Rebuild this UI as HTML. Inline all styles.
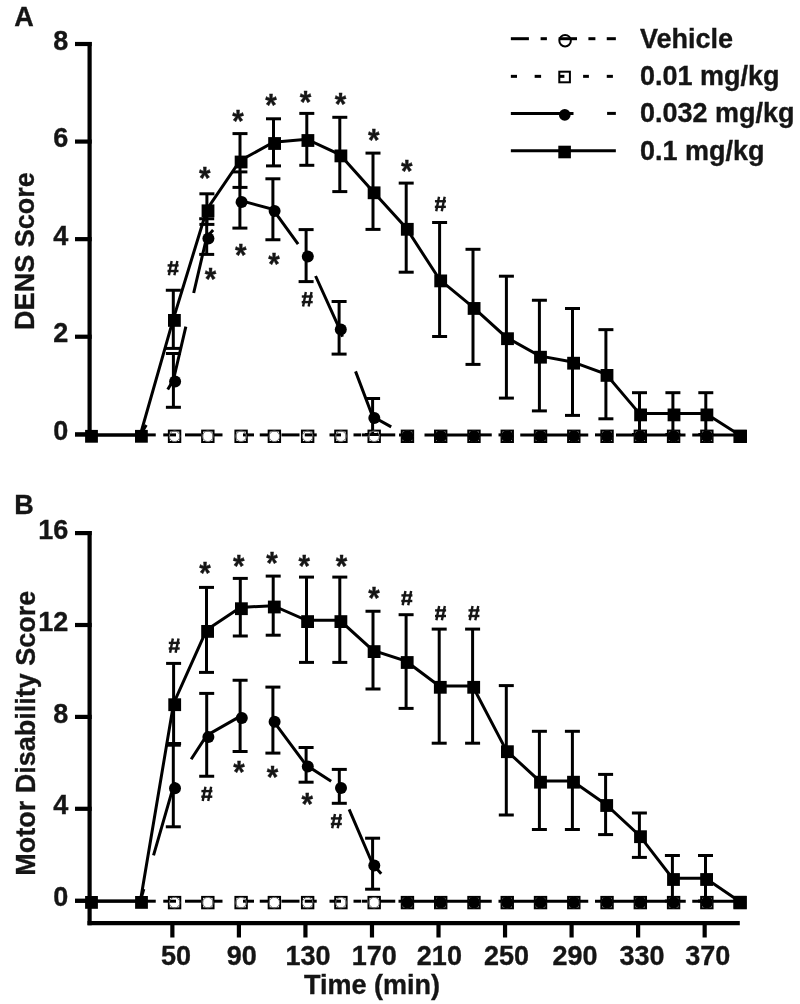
<!DOCTYPE html>
<html><head><meta charset="utf-8"><title>Figure</title>
<style>
html,body{margin:0;padding:0;background:#fff;}
svg{display:block;will-change:transform;}
text{font-family:"Liberation Sans", sans-serif;font-weight:bold;stroke:#151515;stroke-width:0.35px;}
</style></head>
<body>
<svg width="800" height="1004" viewBox="0 0 800 1004">
<rect x="0" y="0" width="800" height="1004" fill="#fff"/>
<line x1="89.60" y1="41.90" x2="89.60" y2="436.00" stroke="#000" stroke-width="4.2" stroke-linecap="butt"/>
<line x1="75.00" y1="434.30" x2="91.70" y2="434.30" stroke="#000" stroke-width="4.2" stroke-linecap="butt"/>
<text x="68.40" y="439.90" font-size="27" text-anchor="end" fill="#151515">0</text>
<line x1="75.00" y1="336.73" x2="91.70" y2="336.73" stroke="#000" stroke-width="4.2" stroke-linecap="butt"/>
<text x="68.40" y="342.33" font-size="27" text-anchor="end" fill="#151515">2</text>
<line x1="75.00" y1="239.15" x2="91.70" y2="239.15" stroke="#000" stroke-width="4.2" stroke-linecap="butt"/>
<text x="68.40" y="244.75" font-size="27" text-anchor="end" fill="#151515">4</text>
<line x1="75.00" y1="141.57" x2="91.70" y2="141.57" stroke="#000" stroke-width="4.2" stroke-linecap="butt"/>
<text x="68.40" y="147.17" font-size="27" text-anchor="end" fill="#151515">6</text>
<line x1="75.00" y1="44.00" x2="91.70" y2="44.00" stroke="#000" stroke-width="4.2" stroke-linecap="butt"/>
<text x="68.40" y="49.60" font-size="27" text-anchor="end" fill="#151515">8</text>
<text x="14.20" y="25.80" font-size="27" text-anchor="start" fill="#151515">A</text>
<text x="34.40" y="251.10" font-size="27" text-anchor="middle" fill="#151515" transform="rotate(-90 34.40 251.10)">DENS Score</text>
<line x1="89.60" y1="531.00" x2="89.60" y2="925.30" stroke="#000" stroke-width="4.2" stroke-linecap="butt"/>
<line x1="75.00" y1="900.70" x2="91.70" y2="900.70" stroke="#000" stroke-width="4.2" stroke-linecap="butt"/>
<text x="68.40" y="906.30" font-size="27" text-anchor="end" fill="#151515">0</text>
<line x1="75.00" y1="808.80" x2="91.70" y2="808.80" stroke="#000" stroke-width="4.2" stroke-linecap="butt"/>
<text x="68.40" y="814.40" font-size="27" text-anchor="end" fill="#151515">4</text>
<line x1="75.00" y1="716.90" x2="91.70" y2="716.90" stroke="#000" stroke-width="4.2" stroke-linecap="butt"/>
<text x="68.40" y="722.50" font-size="27" text-anchor="end" fill="#151515">8</text>
<line x1="75.00" y1="625.00" x2="91.70" y2="625.00" stroke="#000" stroke-width="4.2" stroke-linecap="butt"/>
<text x="68.40" y="630.60" font-size="27" text-anchor="end" fill="#151515">12</text>
<line x1="75.00" y1="533.10" x2="91.70" y2="533.10" stroke="#000" stroke-width="4.2" stroke-linecap="butt"/>
<text x="68.40" y="538.70" font-size="27" text-anchor="end" fill="#151515">16</text>
<text x="14.30" y="514.20" font-size="27" text-anchor="start" fill="#151515">B</text>
<text x="35.10" y="733.25" font-size="27" text-anchor="middle" fill="#151515" transform="rotate(-90 35.10 733.25)">Motor Disability Score</text>
<line x1="87.50" y1="923.20" x2="739.80" y2="923.20" stroke="#000" stroke-width="4.2" stroke-linecap="butt"/>
<line x1="172.37" y1="921.20" x2="172.37" y2="937.50" stroke="#000" stroke-width="4.2" stroke-linecap="butt"/>
<text x="176.12" y="964.80" font-size="27" text-anchor="middle" fill="#151515">50</text>
<line x1="238.91" y1="921.20" x2="238.91" y2="937.50" stroke="#000" stroke-width="4.2" stroke-linecap="butt"/>
<text x="241.66" y="964.80" font-size="27" text-anchor="middle" fill="#151515">90</text>
<line x1="305.44" y1="921.20" x2="305.44" y2="937.50" stroke="#000" stroke-width="4.2" stroke-linecap="butt"/>
<text x="307.94" y="964.80" font-size="27" text-anchor="middle" fill="#151515">130</text>
<line x1="371.98" y1="921.20" x2="371.98" y2="937.50" stroke="#000" stroke-width="4.2" stroke-linecap="butt"/>
<text x="374.36" y="964.80" font-size="27" text-anchor="middle" fill="#151515">170</text>
<line x1="438.51" y1="921.20" x2="438.51" y2="937.50" stroke="#000" stroke-width="4.2" stroke-linecap="butt"/>
<text x="439.39" y="964.80" font-size="27" text-anchor="middle" fill="#151515">210</text>
<line x1="505.05" y1="921.20" x2="505.05" y2="937.50" stroke="#000" stroke-width="4.2" stroke-linecap="butt"/>
<text x="506.55" y="964.80" font-size="27" text-anchor="middle" fill="#151515">250</text>
<line x1="571.59" y1="921.20" x2="571.59" y2="937.50" stroke="#000" stroke-width="4.2" stroke-linecap="butt"/>
<text x="575.09" y="964.80" font-size="27" text-anchor="middle" fill="#151515">290</text>
<line x1="638.12" y1="921.20" x2="638.12" y2="937.50" stroke="#000" stroke-width="4.2" stroke-linecap="butt"/>
<text x="642.12" y="964.80" font-size="27" text-anchor="middle" fill="#151515">330</text>
<line x1="704.66" y1="921.20" x2="704.66" y2="937.50" stroke="#000" stroke-width="4.2" stroke-linecap="butt"/>
<text x="707.66" y="964.80" font-size="27" text-anchor="middle" fill="#151515">370</text>
<text x="372.00" y="993.80" font-size="27" text-anchor="middle" fill="#151515">Time (min)</text>
<line x1="75.00" y1="434.90" x2="141.00" y2="434.90" stroke="#000" stroke-width="3.0" stroke-linecap="butt"/>
<line x1="146.00" y1="434.90" x2="155.75" y2="434.90" stroke="#000" stroke-width="3.0" stroke-linecap="butt"/>
<line x1="163.25" y1="434.90" x2="176.00" y2="434.90" stroke="#000" stroke-width="3.0" stroke-linecap="butt"/>
<line x1="185.00" y1="434.90" x2="201.00" y2="434.90" stroke="#000" stroke-width="3.0" stroke-linecap="butt"/>
<line x1="214.00" y1="434.90" x2="222.50" y2="434.90" stroke="#000" stroke-width="3.0" stroke-linecap="butt"/>
<line x1="243.00" y1="434.90" x2="254.00" y2="434.90" stroke="#000" stroke-width="3.0" stroke-linecap="butt"/>
<line x1="259.75" y1="434.90" x2="268.75" y2="434.90" stroke="#000" stroke-width="3.0" stroke-linecap="butt"/>
<line x1="281.50" y1="434.90" x2="299.50" y2="434.90" stroke="#000" stroke-width="3.0" stroke-linecap="butt"/>
<line x1="304.75" y1="434.90" x2="316.75" y2="434.90" stroke="#000" stroke-width="3.0" stroke-linecap="butt"/>
<line x1="329.50" y1="434.90" x2="341.00" y2="434.90" stroke="#000" stroke-width="3.0" stroke-linecap="butt"/>
<line x1="353.50" y1="434.90" x2="361.00" y2="434.90" stroke="#000" stroke-width="3.0" stroke-linecap="butt"/>
<line x1="361.75" y1="434.90" x2="367.50" y2="434.90" stroke="#000" stroke-width="3.0" stroke-linecap="butt"/>
<line x1="380.00" y1="434.90" x2="395.25" y2="434.90" stroke="#000" stroke-width="3.0" stroke-linecap="butt"/>
<line x1="399.00" y1="434.90" x2="401.00" y2="434.90" stroke="#000" stroke-width="3.0" stroke-linecap="butt"/>
<line x1="424.50" y1="434.90" x2="468.00" y2="434.90" stroke="#000" stroke-width="3.0" stroke-linecap="butt"/>
<line x1="470.00" y1="434.90" x2="491.75" y2="434.90" stroke="#000" stroke-width="3.0" stroke-linecap="butt"/>
<line x1="498.50" y1="434.90" x2="501.50" y2="434.90" stroke="#000" stroke-width="3.0" stroke-linecap="butt"/>
<line x1="520.25" y1="434.90" x2="588.25" y2="434.90" stroke="#000" stroke-width="3.0" stroke-linecap="butt"/>
<line x1="595.00" y1="434.90" x2="601.00" y2="434.90" stroke="#000" stroke-width="3.0" stroke-linecap="butt"/>
<line x1="616.00" y1="434.90" x2="685.50" y2="434.90" stroke="#000" stroke-width="3.0" stroke-linecap="butt"/>
<line x1="692.25" y1="434.90" x2="735.00" y2="434.90" stroke="#000" stroke-width="3.0" stroke-linecap="butt"/>
<line x1="173.30" y1="290.25" x2="173.30" y2="348.40" stroke="#000" stroke-width="3.0" stroke-linecap="butt"/>
<line x1="165.80" y1="290.25" x2="180.80" y2="290.25" stroke="#000" stroke-width="3.0" stroke-linecap="butt"/>
<line x1="165.80" y1="348.40" x2="180.80" y2="348.40" stroke="#000" stroke-width="3.0" stroke-linecap="butt"/>
<line x1="206.90" y1="193.80" x2="206.90" y2="224.40" stroke="#000" stroke-width="3.0" stroke-linecap="butt"/>
<line x1="199.40" y1="193.80" x2="214.40" y2="193.80" stroke="#000" stroke-width="3.0" stroke-linecap="butt"/>
<line x1="199.40" y1="224.40" x2="214.40" y2="224.40" stroke="#000" stroke-width="3.0" stroke-linecap="butt"/>
<line x1="240.00" y1="133.60" x2="240.00" y2="187.40" stroke="#000" stroke-width="3.0" stroke-linecap="butt"/>
<line x1="232.50" y1="133.60" x2="247.50" y2="133.60" stroke="#000" stroke-width="3.0" stroke-linecap="butt"/>
<line x1="232.50" y1="187.40" x2="247.50" y2="187.40" stroke="#000" stroke-width="3.0" stroke-linecap="butt"/>
<line x1="273.50" y1="118.80" x2="273.50" y2="165.90" stroke="#000" stroke-width="3.0" stroke-linecap="butt"/>
<line x1="266.00" y1="118.80" x2="281.00" y2="118.80" stroke="#000" stroke-width="3.0" stroke-linecap="butt"/>
<line x1="266.00" y1="165.90" x2="281.00" y2="165.90" stroke="#000" stroke-width="3.0" stroke-linecap="butt"/>
<line x1="306.80" y1="113.40" x2="306.80" y2="165.30" stroke="#000" stroke-width="3.0" stroke-linecap="butt"/>
<line x1="299.30" y1="113.40" x2="314.30" y2="113.40" stroke="#000" stroke-width="3.0" stroke-linecap="butt"/>
<line x1="299.30" y1="165.30" x2="314.30" y2="165.30" stroke="#000" stroke-width="3.0" stroke-linecap="butt"/>
<line x1="339.80" y1="117.30" x2="339.80" y2="191.60" stroke="#000" stroke-width="3.0" stroke-linecap="butt"/>
<line x1="332.30" y1="117.30" x2="347.30" y2="117.30" stroke="#000" stroke-width="3.0" stroke-linecap="butt"/>
<line x1="332.30" y1="191.60" x2="347.30" y2="191.60" stroke="#000" stroke-width="3.0" stroke-linecap="butt"/>
<line x1="373.00" y1="153.10" x2="373.00" y2="229.40" stroke="#000" stroke-width="3.0" stroke-linecap="butt"/>
<line x1="365.50" y1="153.10" x2="380.50" y2="153.10" stroke="#000" stroke-width="3.0" stroke-linecap="butt"/>
<line x1="365.50" y1="229.40" x2="380.50" y2="229.40" stroke="#000" stroke-width="3.0" stroke-linecap="butt"/>
<line x1="406.20" y1="183.10" x2="406.20" y2="272.20" stroke="#000" stroke-width="3.0" stroke-linecap="butt"/>
<line x1="398.70" y1="183.10" x2="413.70" y2="183.10" stroke="#000" stroke-width="3.0" stroke-linecap="butt"/>
<line x1="398.70" y1="272.20" x2="413.70" y2="272.20" stroke="#000" stroke-width="3.0" stroke-linecap="butt"/>
<line x1="439.60" y1="222.50" x2="439.60" y2="336.50" stroke="#000" stroke-width="3.0" stroke-linecap="butt"/>
<line x1="432.10" y1="222.50" x2="447.10" y2="222.50" stroke="#000" stroke-width="3.0" stroke-linecap="butt"/>
<line x1="432.10" y1="336.50" x2="447.10" y2="336.50" stroke="#000" stroke-width="3.0" stroke-linecap="butt"/>
<line x1="473.00" y1="249.30" x2="473.00" y2="364.40" stroke="#000" stroke-width="3.0" stroke-linecap="butt"/>
<line x1="465.50" y1="249.30" x2="480.50" y2="249.30" stroke="#000" stroke-width="3.0" stroke-linecap="butt"/>
<line x1="465.50" y1="364.40" x2="480.50" y2="364.40" stroke="#000" stroke-width="3.0" stroke-linecap="butt"/>
<line x1="506.40" y1="276.20" x2="506.40" y2="398.10" stroke="#000" stroke-width="3.0" stroke-linecap="butt"/>
<line x1="498.90" y1="276.20" x2="513.90" y2="276.20" stroke="#000" stroke-width="3.0" stroke-linecap="butt"/>
<line x1="498.90" y1="398.10" x2="513.90" y2="398.10" stroke="#000" stroke-width="3.0" stroke-linecap="butt"/>
<line x1="539.40" y1="300.25" x2="539.40" y2="410.90" stroke="#000" stroke-width="3.0" stroke-linecap="butt"/>
<line x1="531.90" y1="300.25" x2="546.90" y2="300.25" stroke="#000" stroke-width="3.0" stroke-linecap="butt"/>
<line x1="531.90" y1="410.90" x2="546.90" y2="410.90" stroke="#000" stroke-width="3.0" stroke-linecap="butt"/>
<line x1="572.50" y1="308.50" x2="572.50" y2="415.40" stroke="#000" stroke-width="3.0" stroke-linecap="butt"/>
<line x1="565.00" y1="308.50" x2="580.00" y2="308.50" stroke="#000" stroke-width="3.0" stroke-linecap="butt"/>
<line x1="565.00" y1="415.40" x2="580.00" y2="415.40" stroke="#000" stroke-width="3.0" stroke-linecap="butt"/>
<line x1="605.90" y1="329.65" x2="605.90" y2="418.80" stroke="#000" stroke-width="3.0" stroke-linecap="butt"/>
<line x1="598.40" y1="329.65" x2="613.40" y2="329.65" stroke="#000" stroke-width="3.0" stroke-linecap="butt"/>
<line x1="598.40" y1="418.80" x2="613.40" y2="418.80" stroke="#000" stroke-width="3.0" stroke-linecap="butt"/>
<line x1="639.50" y1="392.70" x2="639.50" y2="434.50" stroke="#000" stroke-width="3.0" stroke-linecap="butt"/>
<line x1="632.00" y1="392.70" x2="647.00" y2="392.70" stroke="#000" stroke-width="3.0" stroke-linecap="butt"/>
<line x1="632.00" y1="434.50" x2="647.00" y2="434.50" stroke="#000" stroke-width="3.0" stroke-linecap="butt"/>
<line x1="672.90" y1="392.70" x2="672.90" y2="434.50" stroke="#000" stroke-width="3.0" stroke-linecap="butt"/>
<line x1="665.40" y1="392.70" x2="680.40" y2="392.70" stroke="#000" stroke-width="3.0" stroke-linecap="butt"/>
<line x1="665.40" y1="434.50" x2="680.40" y2="434.50" stroke="#000" stroke-width="3.0" stroke-linecap="butt"/>
<line x1="705.80" y1="392.70" x2="705.80" y2="434.50" stroke="#000" stroke-width="3.0" stroke-linecap="butt"/>
<line x1="698.30" y1="392.70" x2="713.30" y2="392.70" stroke="#000" stroke-width="3.0" stroke-linecap="butt"/>
<line x1="698.30" y1="434.50" x2="713.30" y2="434.50" stroke="#000" stroke-width="3.0" stroke-linecap="butt"/>
<line x1="173.40" y1="353.50" x2="173.40" y2="407.30" stroke="#000" stroke-width="3.0" stroke-linecap="butt"/>
<line x1="165.90" y1="353.50" x2="180.90" y2="353.50" stroke="#000" stroke-width="3.0" stroke-linecap="butt"/>
<line x1="165.90" y1="407.30" x2="180.90" y2="407.30" stroke="#000" stroke-width="3.0" stroke-linecap="butt"/>
<line x1="206.70" y1="218.75" x2="206.70" y2="254.40" stroke="#000" stroke-width="3.0" stroke-linecap="butt"/>
<line x1="199.20" y1="218.75" x2="214.20" y2="218.75" stroke="#000" stroke-width="3.0" stroke-linecap="butt"/>
<line x1="199.20" y1="254.40" x2="214.20" y2="254.40" stroke="#000" stroke-width="3.0" stroke-linecap="butt"/>
<line x1="239.90" y1="171.90" x2="239.90" y2="228.10" stroke="#000" stroke-width="3.0" stroke-linecap="butt"/>
<line x1="232.40" y1="171.90" x2="247.40" y2="171.90" stroke="#000" stroke-width="3.0" stroke-linecap="butt"/>
<line x1="232.40" y1="228.10" x2="247.40" y2="228.10" stroke="#000" stroke-width="3.0" stroke-linecap="butt"/>
<line x1="272.90" y1="178.80" x2="272.90" y2="239.75" stroke="#000" stroke-width="3.0" stroke-linecap="butt"/>
<line x1="265.40" y1="178.80" x2="280.40" y2="178.80" stroke="#000" stroke-width="3.0" stroke-linecap="butt"/>
<line x1="265.40" y1="239.75" x2="280.40" y2="239.75" stroke="#000" stroke-width="3.0" stroke-linecap="butt"/>
<line x1="306.10" y1="229.60" x2="306.10" y2="281.60" stroke="#000" stroke-width="3.0" stroke-linecap="butt"/>
<line x1="298.60" y1="229.60" x2="313.60" y2="229.60" stroke="#000" stroke-width="3.0" stroke-linecap="butt"/>
<line x1="298.60" y1="281.60" x2="313.60" y2="281.60" stroke="#000" stroke-width="3.0" stroke-linecap="butt"/>
<line x1="339.10" y1="301.50" x2="339.10" y2="354.10" stroke="#000" stroke-width="3.0" stroke-linecap="butt"/>
<line x1="331.60" y1="301.50" x2="346.60" y2="301.50" stroke="#000" stroke-width="3.0" stroke-linecap="butt"/>
<line x1="331.60" y1="354.10" x2="346.60" y2="354.10" stroke="#000" stroke-width="3.0" stroke-linecap="butt"/>
<line x1="372.60" y1="398.50" x2="372.60" y2="434.50" stroke="#000" stroke-width="3.0" stroke-linecap="butt"/>
<line x1="365.10" y1="398.50" x2="380.10" y2="398.50" stroke="#000" stroke-width="3.0" stroke-linecap="butt"/>
<line x1="365.10" y1="434.50" x2="380.10" y2="434.50" stroke="#000" stroke-width="3.0" stroke-linecap="butt"/>
<polyline points="140.30,434.90 146.27,425.00" fill="none" stroke="#000" stroke-width="3.0" stroke-linejoin="miter" stroke-miterlimit="10"/>
<polyline points="167.73,389.40 173.40,380.00 185.84,326.60" fill="none" stroke="#000" stroke-width="3.0" stroke-linejoin="miter" stroke-miterlimit="10"/>
<polyline points="193.67,293.00 206.70,237.10 213.12,230.00" fill="none" stroke="#000" stroke-width="3.0" stroke-linejoin="miter" stroke-miterlimit="10"/>
<polyline points="236.58,204.07 239.90,200.40 272.90,209.40 298.11,244.10" fill="none" stroke="#000" stroke-width="3.0" stroke-linejoin="miter" stroke-miterlimit="10"/>
<polyline points="315.57,276.00 339.10,327.90 342.45,336.76" fill="none" stroke="#000" stroke-width="3.0" stroke-linejoin="miter" stroke-miterlimit="10"/>
<polyline points="355.55,371.40 372.60,416.50 391.20,426.90" fill="none" stroke="#000" stroke-width="3.0" stroke-linejoin="miter" stroke-miterlimit="10"/>
<polyline points="90.40,435.00 140.30,435.00 173.30,319.10 206.90,209.50 240.00,160.70 273.50,142.20 306.80,139.20 339.80,154.60 373.00,191.50 406.20,228.00 439.60,279.60 473.00,307.15 506.40,337.40 539.40,355.90 572.50,361.90 605.90,374.10 639.50,413.60 672.90,413.60 705.80,413.60 739.50,435.10" fill="none" stroke="#000" stroke-width="3.0" stroke-linejoin="miter" stroke-miterlimit="10"/>
<rect x="168.87" y="430.60" width="11.4" height="11.4" fill="none" stroke="#000" stroke-width="2.0"/>
<circle cx="174.57" cy="436.30" r="5.25" fill="none" stroke="#777" stroke-width="1.0"/>
<rect x="202.14" y="430.60" width="11.4" height="11.4" fill="none" stroke="#000" stroke-width="2.0"/>
<circle cx="207.84" cy="436.30" r="5.25" fill="none" stroke="#777" stroke-width="1.0"/>
<rect x="235.41" y="430.60" width="11.4" height="11.4" fill="none" stroke="#000" stroke-width="2.0"/>
<circle cx="241.11" cy="436.30" r="5.25" fill="none" stroke="#777" stroke-width="1.0"/>
<rect x="268.67" y="430.60" width="11.4" height="11.4" fill="none" stroke="#000" stroke-width="2.0"/>
<circle cx="274.37" cy="436.30" r="5.25" fill="none" stroke="#777" stroke-width="1.0"/>
<rect x="301.94" y="430.60" width="11.4" height="11.4" fill="none" stroke="#000" stroke-width="2.0"/>
<circle cx="307.64" cy="436.30" r="5.25" fill="none" stroke="#777" stroke-width="1.0"/>
<rect x="335.21" y="430.60" width="11.4" height="11.4" fill="none" stroke="#000" stroke-width="2.0"/>
<circle cx="340.91" cy="436.30" r="5.25" fill="none" stroke="#777" stroke-width="1.0"/>
<rect x="368.48" y="430.60" width="11.4" height="11.4" fill="none" stroke="#000" stroke-width="2.0"/>
<circle cx="374.18" cy="436.30" r="5.25" fill="none" stroke="#777" stroke-width="1.0"/>
<rect x="401.75" y="430.60" width="11.4" height="11.4" fill="none" stroke="#000" stroke-width="2.0"/>
<circle cx="407.45" cy="436.30" r="5.25" fill="none" stroke="#777" stroke-width="1.0"/>
<circle cx="407.45" cy="436.20" r="6.0" fill="#000"/>
<rect x="435.01" y="430.60" width="11.4" height="11.4" fill="none" stroke="#000" stroke-width="2.0"/>
<circle cx="440.71" cy="436.30" r="5.25" fill="none" stroke="#777" stroke-width="1.0"/>
<circle cx="440.71" cy="436.20" r="6.0" fill="#000"/>
<rect x="468.28" y="430.60" width="11.4" height="11.4" fill="none" stroke="#000" stroke-width="2.0"/>
<circle cx="473.98" cy="436.30" r="5.25" fill="none" stroke="#777" stroke-width="1.0"/>
<circle cx="473.98" cy="436.20" r="6.0" fill="#000"/>
<rect x="501.55" y="430.60" width="11.4" height="11.4" fill="none" stroke="#000" stroke-width="2.0"/>
<circle cx="507.25" cy="436.30" r="5.25" fill="none" stroke="#777" stroke-width="1.0"/>
<circle cx="507.25" cy="436.20" r="6.0" fill="#000"/>
<rect x="534.82" y="430.60" width="11.4" height="11.4" fill="none" stroke="#000" stroke-width="2.0"/>
<circle cx="540.52" cy="436.30" r="5.25" fill="none" stroke="#777" stroke-width="1.0"/>
<circle cx="540.52" cy="436.20" r="6.0" fill="#000"/>
<rect x="568.09" y="430.60" width="11.4" height="11.4" fill="none" stroke="#000" stroke-width="2.0"/>
<circle cx="573.79" cy="436.30" r="5.25" fill="none" stroke="#777" stroke-width="1.0"/>
<circle cx="573.79" cy="436.20" r="6.0" fill="#000"/>
<rect x="601.35" y="430.60" width="11.4" height="11.4" fill="none" stroke="#000" stroke-width="2.0"/>
<circle cx="607.05" cy="436.30" r="5.25" fill="none" stroke="#777" stroke-width="1.0"/>
<circle cx="607.05" cy="436.20" r="6.0" fill="#000"/>
<rect x="634.62" y="430.60" width="11.4" height="11.4" fill="none" stroke="#000" stroke-width="2.0"/>
<circle cx="640.32" cy="436.30" r="5.25" fill="none" stroke="#777" stroke-width="1.0"/>
<circle cx="640.32" cy="436.20" r="6.0" fill="#000"/>
<rect x="667.89" y="430.60" width="11.4" height="11.4" fill="none" stroke="#000" stroke-width="2.0"/>
<circle cx="673.59" cy="436.30" r="5.25" fill="none" stroke="#777" stroke-width="1.0"/>
<circle cx="673.59" cy="436.20" r="6.0" fill="#000"/>
<rect x="701.16" y="430.60" width="11.4" height="11.4" fill="none" stroke="#000" stroke-width="2.0"/>
<circle cx="706.86" cy="436.30" r="5.25" fill="none" stroke="#777" stroke-width="1.0"/>
<circle cx="706.86" cy="436.20" r="6.0" fill="#000"/>
<rect x="734.43" y="430.60" width="11.4" height="11.4" fill="none" stroke="#000" stroke-width="2.0"/>
<circle cx="740.13" cy="436.30" r="5.25" fill="none" stroke="#777" stroke-width="1.0"/>
<circle cx="740.13" cy="436.20" r="6.0" fill="#000"/>
<circle cx="175.10" cy="381.50" r="6.0" fill="#000"/>
<circle cx="208.40" cy="238.60" r="6.0" fill="#000"/>
<circle cx="241.60" cy="201.90" r="6.0" fill="#000"/>
<circle cx="274.60" cy="210.90" r="6.0" fill="#000"/>
<circle cx="307.80" cy="256.60" r="6.0" fill="#000"/>
<circle cx="340.80" cy="329.40" r="6.0" fill="#000"/>
<circle cx="374.30" cy="418.00" r="6.0" fill="#000"/>
<rect x="85.10" y="429.90" width="12.8" height="12.8" fill="#000"/>
<rect x="135.00" y="429.90" width="12.8" height="12.8" fill="#000"/>
<rect x="168.00" y="314.00" width="12.8" height="12.8" fill="#000"/>
<rect x="201.60" y="204.40" width="12.8" height="12.8" fill="#000"/>
<rect x="234.70" y="155.60" width="12.8" height="12.8" fill="#000"/>
<rect x="268.20" y="137.10" width="12.8" height="12.8" fill="#000"/>
<rect x="301.50" y="134.10" width="12.8" height="12.8" fill="#000"/>
<rect x="334.50" y="149.50" width="12.8" height="12.8" fill="#000"/>
<rect x="367.70" y="186.40" width="12.8" height="12.8" fill="#000"/>
<rect x="400.90" y="222.90" width="12.8" height="12.8" fill="#000"/>
<rect x="434.30" y="274.50" width="12.8" height="12.8" fill="#000"/>
<rect x="467.70" y="302.05" width="12.8" height="12.8" fill="#000"/>
<rect x="501.10" y="332.30" width="12.8" height="12.8" fill="#000"/>
<rect x="534.10" y="350.80" width="12.8" height="12.8" fill="#000"/>
<rect x="567.20" y="356.80" width="12.8" height="12.8" fill="#000"/>
<rect x="600.60" y="369.00" width="12.8" height="12.8" fill="#000"/>
<rect x="634.20" y="408.50" width="12.8" height="12.8" fill="#000"/>
<rect x="667.60" y="408.50" width="12.8" height="12.8" fill="#000"/>
<rect x="700.50" y="408.50" width="12.8" height="12.8" fill="#000"/>
<rect x="734.20" y="430.00" width="12.8" height="12.8" fill="#000"/>
<text x="204.75" y="187.70" font-size="29.5" text-anchor="middle" fill="#151515" transform="translate(0 167.40) scale(1 1.08) translate(0 -167.40)">*</text>
<text x="237.90" y="130.80" font-size="29.5" text-anchor="middle" fill="#151515" transform="translate(0 110.50) scale(1 1.08) translate(0 -110.50)">*</text>
<text x="271.10" y="113.90" font-size="29.5" text-anchor="middle" fill="#151515" transform="translate(0 93.60) scale(1 1.08) translate(0 -93.60)">*</text>
<text x="305.40" y="110.90" font-size="29.5" text-anchor="middle" fill="#151515" transform="translate(0 90.60) scale(1 1.08) translate(0 -90.60)">*</text>
<text x="340.40" y="113.60" font-size="29.5" text-anchor="middle" fill="#151515" transform="translate(0 93.30) scale(1 1.08) translate(0 -93.30)">*</text>
<text x="373.70" y="149.55" font-size="29.5" text-anchor="middle" fill="#151515" transform="translate(0 129.25) scale(1 1.08) translate(0 -129.25)">*</text>
<text x="406.75" y="180.40" font-size="29.5" text-anchor="middle" fill="#151515" transform="translate(0 160.10) scale(1 1.08) translate(0 -160.10)">*</text>
<text x="210.40" y="288.55" font-size="29.5" text-anchor="middle" fill="#151515" transform="translate(0 268.25) scale(1 1.08) translate(0 -268.25)">*</text>
<text x="240.80" y="263.90" font-size="29.5" text-anchor="middle" fill="#151515" transform="translate(0 243.60) scale(1 1.08) translate(0 -243.60)">*</text>
<text x="274.00" y="273.30" font-size="29.5" text-anchor="middle" fill="#151515" transform="translate(0 253.00) scale(1 1.08) translate(0 -253.00)">*</text>
<line x1="171.65" y1="261.00" x2="168.90" y2="275.30" stroke="#151515" stroke-width="2.4" stroke-linecap="butt"/>
<line x1="177.35" y1="261.00" x2="174.40" y2="275.30" stroke="#151515" stroke-width="2.4" stroke-linecap="butt"/>
<line x1="167.60" y1="265.40" x2="178.60" y2="265.40" stroke="#151515" stroke-width="2.4" stroke-linecap="butt"/>
<line x1="167.50" y1="271.00" x2="178.50" y2="271.00" stroke="#151515" stroke-width="2.4" stroke-linecap="butt"/>
<line x1="439.00" y1="196.85" x2="436.25" y2="211.15" stroke="#151515" stroke-width="2.4" stroke-linecap="butt"/>
<line x1="444.70" y1="196.85" x2="441.75" y2="211.15" stroke="#151515" stroke-width="2.4" stroke-linecap="butt"/>
<line x1="434.95" y1="201.25" x2="445.95" y2="201.25" stroke="#151515" stroke-width="2.4" stroke-linecap="butt"/>
<line x1="434.85" y1="206.85" x2="445.85" y2="206.85" stroke="#151515" stroke-width="2.4" stroke-linecap="butt"/>
<line x1="305.85" y1="292.10" x2="303.10" y2="306.40" stroke="#151515" stroke-width="2.4" stroke-linecap="butt"/>
<line x1="311.55" y1="292.10" x2="308.60" y2="306.40" stroke="#151515" stroke-width="2.4" stroke-linecap="butt"/>
<line x1="301.80" y1="296.50" x2="312.80" y2="296.50" stroke="#151515" stroke-width="2.4" stroke-linecap="butt"/>
<line x1="301.70" y1="302.10" x2="312.70" y2="302.10" stroke="#151515" stroke-width="2.4" stroke-linecap="butt"/>
<line x1="75.00" y1="901.20" x2="141.00" y2="901.20" stroke="#000" stroke-width="3.0" stroke-linecap="butt"/>
<line x1="146.00" y1="901.20" x2="155.75" y2="901.20" stroke="#000" stroke-width="3.0" stroke-linecap="butt"/>
<line x1="163.25" y1="901.20" x2="176.00" y2="901.20" stroke="#000" stroke-width="3.0" stroke-linecap="butt"/>
<line x1="185.00" y1="901.20" x2="201.00" y2="901.20" stroke="#000" stroke-width="3.0" stroke-linecap="butt"/>
<line x1="214.00" y1="901.20" x2="222.50" y2="901.20" stroke="#000" stroke-width="3.0" stroke-linecap="butt"/>
<line x1="243.00" y1="901.20" x2="254.00" y2="901.20" stroke="#000" stroke-width="3.0" stroke-linecap="butt"/>
<line x1="259.75" y1="901.20" x2="268.75" y2="901.20" stroke="#000" stroke-width="3.0" stroke-linecap="butt"/>
<line x1="281.50" y1="901.20" x2="299.50" y2="901.20" stroke="#000" stroke-width="3.0" stroke-linecap="butt"/>
<line x1="304.75" y1="901.20" x2="316.75" y2="901.20" stroke="#000" stroke-width="3.0" stroke-linecap="butt"/>
<line x1="329.50" y1="901.20" x2="341.00" y2="901.20" stroke="#000" stroke-width="3.0" stroke-linecap="butt"/>
<line x1="353.50" y1="901.20" x2="361.00" y2="901.20" stroke="#000" stroke-width="3.0" stroke-linecap="butt"/>
<line x1="361.75" y1="901.20" x2="367.50" y2="901.20" stroke="#000" stroke-width="3.0" stroke-linecap="butt"/>
<line x1="379.50" y1="901.20" x2="395.25" y2="901.20" stroke="#000" stroke-width="3.0" stroke-linecap="butt"/>
<line x1="398.50" y1="901.20" x2="491.75" y2="901.20" stroke="#000" stroke-width="3.0" stroke-linecap="butt"/>
<line x1="498.50" y1="901.20" x2="588.25" y2="901.20" stroke="#000" stroke-width="3.0" stroke-linecap="butt"/>
<line x1="595.00" y1="901.20" x2="685.75" y2="901.20" stroke="#000" stroke-width="3.0" stroke-linecap="butt"/>
<line x1="692.25" y1="901.20" x2="735.00" y2="901.20" stroke="#000" stroke-width="3.0" stroke-linecap="butt"/>
<line x1="173.60" y1="663.40" x2="173.60" y2="743.50" stroke="#000" stroke-width="3.0" stroke-linecap="butt"/>
<line x1="166.10" y1="663.40" x2="181.10" y2="663.40" stroke="#000" stroke-width="3.0" stroke-linecap="butt"/>
<line x1="166.10" y1="743.50" x2="181.10" y2="743.50" stroke="#000" stroke-width="3.0" stroke-linecap="butt"/>
<line x1="206.50" y1="587.40" x2="206.50" y2="672.40" stroke="#000" stroke-width="3.0" stroke-linecap="butt"/>
<line x1="199.00" y1="587.40" x2="214.00" y2="587.40" stroke="#000" stroke-width="3.0" stroke-linecap="butt"/>
<line x1="199.00" y1="672.40" x2="214.00" y2="672.40" stroke="#000" stroke-width="3.0" stroke-linecap="butt"/>
<line x1="240.30" y1="578.40" x2="240.30" y2="636.00" stroke="#000" stroke-width="3.0" stroke-linecap="butt"/>
<line x1="232.80" y1="578.40" x2="247.80" y2="578.40" stroke="#000" stroke-width="3.0" stroke-linecap="butt"/>
<line x1="232.80" y1="636.00" x2="247.80" y2="636.00" stroke="#000" stroke-width="3.0" stroke-linecap="butt"/>
<line x1="273.20" y1="576.10" x2="273.20" y2="635.20" stroke="#000" stroke-width="3.0" stroke-linecap="butt"/>
<line x1="265.70" y1="576.10" x2="280.70" y2="576.10" stroke="#000" stroke-width="3.0" stroke-linecap="butt"/>
<line x1="265.70" y1="635.20" x2="280.70" y2="635.20" stroke="#000" stroke-width="3.0" stroke-linecap="butt"/>
<line x1="306.50" y1="577.10" x2="306.50" y2="662.40" stroke="#000" stroke-width="3.0" stroke-linecap="butt"/>
<line x1="299.00" y1="577.10" x2="314.00" y2="577.10" stroke="#000" stroke-width="3.0" stroke-linecap="butt"/>
<line x1="299.00" y1="662.40" x2="314.00" y2="662.40" stroke="#000" stroke-width="3.0" stroke-linecap="butt"/>
<line x1="339.80" y1="577.10" x2="339.80" y2="662.40" stroke="#000" stroke-width="3.0" stroke-linecap="butt"/>
<line x1="332.30" y1="577.10" x2="347.30" y2="577.10" stroke="#000" stroke-width="3.0" stroke-linecap="butt"/>
<line x1="332.30" y1="662.40" x2="347.30" y2="662.40" stroke="#000" stroke-width="3.0" stroke-linecap="butt"/>
<line x1="373.00" y1="611.25" x2="373.00" y2="689.00" stroke="#000" stroke-width="3.0" stroke-linecap="butt"/>
<line x1="365.50" y1="611.25" x2="380.50" y2="611.25" stroke="#000" stroke-width="3.0" stroke-linecap="butt"/>
<line x1="365.50" y1="689.00" x2="380.50" y2="689.00" stroke="#000" stroke-width="3.0" stroke-linecap="butt"/>
<line x1="406.10" y1="614.70" x2="406.10" y2="708.40" stroke="#000" stroke-width="3.0" stroke-linecap="butt"/>
<line x1="398.60" y1="614.70" x2="413.60" y2="614.70" stroke="#000" stroke-width="3.0" stroke-linecap="butt"/>
<line x1="398.60" y1="708.40" x2="413.60" y2="708.40" stroke="#000" stroke-width="3.0" stroke-linecap="butt"/>
<line x1="439.20" y1="629.10" x2="439.20" y2="743.20" stroke="#000" stroke-width="3.0" stroke-linecap="butt"/>
<line x1="431.70" y1="629.10" x2="446.70" y2="629.10" stroke="#000" stroke-width="3.0" stroke-linecap="butt"/>
<line x1="431.70" y1="743.20" x2="446.70" y2="743.20" stroke="#000" stroke-width="3.0" stroke-linecap="butt"/>
<line x1="472.60" y1="629.10" x2="472.60" y2="743.20" stroke="#000" stroke-width="3.0" stroke-linecap="butt"/>
<line x1="465.10" y1="629.10" x2="480.10" y2="629.10" stroke="#000" stroke-width="3.0" stroke-linecap="butt"/>
<line x1="465.10" y1="743.20" x2="480.10" y2="743.20" stroke="#000" stroke-width="3.0" stroke-linecap="butt"/>
<line x1="506.30" y1="685.60" x2="506.30" y2="815.00" stroke="#000" stroke-width="3.0" stroke-linecap="butt"/>
<line x1="498.80" y1="685.60" x2="513.80" y2="685.60" stroke="#000" stroke-width="3.0" stroke-linecap="butt"/>
<line x1="498.80" y1="815.00" x2="513.80" y2="815.00" stroke="#000" stroke-width="3.0" stroke-linecap="butt"/>
<line x1="539.40" y1="731.30" x2="539.40" y2="829.50" stroke="#000" stroke-width="3.0" stroke-linecap="butt"/>
<line x1="531.90" y1="731.30" x2="546.90" y2="731.30" stroke="#000" stroke-width="3.0" stroke-linecap="butt"/>
<line x1="531.90" y1="829.50" x2="546.90" y2="829.50" stroke="#000" stroke-width="3.0" stroke-linecap="butt"/>
<line x1="572.40" y1="731.30" x2="572.40" y2="829.50" stroke="#000" stroke-width="3.0" stroke-linecap="butt"/>
<line x1="564.90" y1="731.30" x2="579.90" y2="731.30" stroke="#000" stroke-width="3.0" stroke-linecap="butt"/>
<line x1="564.90" y1="829.50" x2="579.90" y2="829.50" stroke="#000" stroke-width="3.0" stroke-linecap="butt"/>
<line x1="605.60" y1="774.40" x2="605.60" y2="834.60" stroke="#000" stroke-width="3.0" stroke-linecap="butt"/>
<line x1="598.10" y1="774.40" x2="613.10" y2="774.40" stroke="#000" stroke-width="3.0" stroke-linecap="butt"/>
<line x1="598.10" y1="834.60" x2="613.10" y2="834.60" stroke="#000" stroke-width="3.0" stroke-linecap="butt"/>
<line x1="639.40" y1="813.00" x2="639.40" y2="857.40" stroke="#000" stroke-width="3.0" stroke-linecap="butt"/>
<line x1="631.90" y1="813.00" x2="646.90" y2="813.00" stroke="#000" stroke-width="3.0" stroke-linecap="butt"/>
<line x1="631.90" y1="857.40" x2="646.90" y2="857.40" stroke="#000" stroke-width="3.0" stroke-linecap="butt"/>
<line x1="672.40" y1="855.50" x2="672.40" y2="901.00" stroke="#000" stroke-width="3.0" stroke-linecap="butt"/>
<line x1="664.90" y1="855.50" x2="679.90" y2="855.50" stroke="#000" stroke-width="3.0" stroke-linecap="butt"/>
<line x1="664.90" y1="901.00" x2="679.90" y2="901.00" stroke="#000" stroke-width="3.0" stroke-linecap="butt"/>
<line x1="705.50" y1="855.50" x2="705.50" y2="901.00" stroke="#000" stroke-width="3.0" stroke-linecap="butt"/>
<line x1="698.00" y1="855.50" x2="713.00" y2="855.50" stroke="#000" stroke-width="3.0" stroke-linecap="butt"/>
<line x1="698.00" y1="901.00" x2="713.00" y2="901.00" stroke="#000" stroke-width="3.0" stroke-linecap="butt"/>
<line x1="173.30" y1="745.20" x2="173.30" y2="826.80" stroke="#000" stroke-width="3.0" stroke-linecap="butt"/>
<line x1="165.80" y1="745.20" x2="180.80" y2="745.20" stroke="#000" stroke-width="3.0" stroke-linecap="butt"/>
<line x1="165.80" y1="826.80" x2="180.80" y2="826.80" stroke="#000" stroke-width="3.0" stroke-linecap="butt"/>
<line x1="206.70" y1="693.40" x2="206.70" y2="776.25" stroke="#000" stroke-width="3.0" stroke-linecap="butt"/>
<line x1="199.20" y1="693.40" x2="214.20" y2="693.40" stroke="#000" stroke-width="3.0" stroke-linecap="butt"/>
<line x1="199.20" y1="776.25" x2="214.20" y2="776.25" stroke="#000" stroke-width="3.0" stroke-linecap="butt"/>
<line x1="240.10" y1="680.25" x2="240.10" y2="751.50" stroke="#000" stroke-width="3.0" stroke-linecap="butt"/>
<line x1="232.60" y1="680.25" x2="247.60" y2="680.25" stroke="#000" stroke-width="3.0" stroke-linecap="butt"/>
<line x1="232.60" y1="751.50" x2="247.60" y2="751.50" stroke="#000" stroke-width="3.0" stroke-linecap="butt"/>
<line x1="272.90" y1="687.10" x2="272.90" y2="753.10" stroke="#000" stroke-width="3.0" stroke-linecap="butt"/>
<line x1="265.40" y1="687.10" x2="280.40" y2="687.10" stroke="#000" stroke-width="3.0" stroke-linecap="butt"/>
<line x1="265.40" y1="753.10" x2="280.40" y2="753.10" stroke="#000" stroke-width="3.0" stroke-linecap="butt"/>
<line x1="306.10" y1="747.50" x2="306.10" y2="782.20" stroke="#000" stroke-width="3.0" stroke-linecap="butt"/>
<line x1="298.60" y1="747.50" x2="313.60" y2="747.50" stroke="#000" stroke-width="3.0" stroke-linecap="butt"/>
<line x1="298.60" y1="782.20" x2="313.60" y2="782.20" stroke="#000" stroke-width="3.0" stroke-linecap="butt"/>
<line x1="339.30" y1="769.40" x2="339.30" y2="803.30" stroke="#000" stroke-width="3.0" stroke-linecap="butt"/>
<line x1="331.80" y1="769.40" x2="346.80" y2="769.40" stroke="#000" stroke-width="3.0" stroke-linecap="butt"/>
<line x1="331.80" y1="803.30" x2="346.80" y2="803.30" stroke="#000" stroke-width="3.0" stroke-linecap="butt"/>
<line x1="372.60" y1="838.20" x2="372.60" y2="889.20" stroke="#000" stroke-width="3.0" stroke-linecap="butt"/>
<line x1="365.10" y1="838.20" x2="380.10" y2="838.20" stroke="#000" stroke-width="3.0" stroke-linecap="butt"/>
<line x1="365.10" y1="889.20" x2="380.10" y2="889.20" stroke="#000" stroke-width="3.0" stroke-linecap="butt"/>
<polyline points="140.30,901.20 143.82,889.00" fill="none" stroke="#000" stroke-width="3.0" stroke-linejoin="miter" stroke-miterlimit="10"/>
<polyline points="153.54,855.30 173.30,786.80 175.97,782.69" fill="none" stroke="#000" stroke-width="3.0" stroke-linejoin="miter" stroke-miterlimit="10"/>
<polyline points="191.17,759.30 206.70,735.40 240.10,716.40 243.38,716.79" fill="none" stroke="#000" stroke-width="3.0" stroke-linejoin="miter" stroke-miterlimit="10"/>
<polyline points="272.90,720.30 306.10,765.10 331.16,781.25" fill="none" stroke="#000" stroke-width="3.0" stroke-linejoin="miter" stroke-miterlimit="10"/>
<polyline points="349.14,809.40 372.60,864.00 381.22,873.75" fill="none" stroke="#000" stroke-width="3.0" stroke-linejoin="miter" stroke-miterlimit="10"/>
<polyline points="90.40,901.10 140.40,901.10 173.60,703.40 206.50,630.10 240.30,607.40 273.20,605.70 306.50,620.30 339.80,620.30 373.00,650.30 406.10,661.20 439.20,686.00 472.60,686.00 506.30,750.40 539.40,780.90 572.40,780.90 605.60,804.20 639.40,835.40 672.40,878.20 705.50,878.20 738.90,901.00" fill="none" stroke="#000" stroke-width="3.0" stroke-linejoin="miter" stroke-miterlimit="10"/>
<rect x="168.87" y="896.90" width="11.4" height="11.4" fill="none" stroke="#000" stroke-width="2.0"/>
<circle cx="174.57" cy="902.60" r="5.25" fill="none" stroke="#777" stroke-width="1.0"/>
<rect x="202.14" y="896.90" width="11.4" height="11.4" fill="none" stroke="#000" stroke-width="2.0"/>
<circle cx="207.84" cy="902.60" r="5.25" fill="none" stroke="#777" stroke-width="1.0"/>
<rect x="235.41" y="896.90" width="11.4" height="11.4" fill="none" stroke="#000" stroke-width="2.0"/>
<circle cx="241.11" cy="902.60" r="5.25" fill="none" stroke="#777" stroke-width="1.0"/>
<rect x="268.67" y="896.90" width="11.4" height="11.4" fill="none" stroke="#000" stroke-width="2.0"/>
<circle cx="274.37" cy="902.60" r="5.25" fill="none" stroke="#777" stroke-width="1.0"/>
<rect x="301.94" y="896.90" width="11.4" height="11.4" fill="none" stroke="#000" stroke-width="2.0"/>
<circle cx="307.64" cy="902.60" r="5.25" fill="none" stroke="#777" stroke-width="1.0"/>
<rect x="335.21" y="896.90" width="11.4" height="11.4" fill="none" stroke="#000" stroke-width="2.0"/>
<circle cx="340.91" cy="902.60" r="5.25" fill="none" stroke="#777" stroke-width="1.0"/>
<rect x="368.48" y="896.90" width="11.4" height="11.4" fill="none" stroke="#000" stroke-width="2.0"/>
<circle cx="374.18" cy="902.60" r="5.25" fill="none" stroke="#777" stroke-width="1.0"/>
<rect x="401.75" y="896.90" width="11.4" height="11.4" fill="none" stroke="#000" stroke-width="2.0"/>
<circle cx="407.45" cy="902.60" r="5.25" fill="none" stroke="#777" stroke-width="1.0"/>
<circle cx="407.45" cy="902.50" r="6.0" fill="#000"/>
<rect x="435.01" y="896.90" width="11.4" height="11.4" fill="none" stroke="#000" stroke-width="2.0"/>
<circle cx="440.71" cy="902.60" r="5.25" fill="none" stroke="#777" stroke-width="1.0"/>
<circle cx="440.71" cy="902.50" r="6.0" fill="#000"/>
<rect x="468.28" y="896.90" width="11.4" height="11.4" fill="none" stroke="#000" stroke-width="2.0"/>
<circle cx="473.98" cy="902.60" r="5.25" fill="none" stroke="#777" stroke-width="1.0"/>
<circle cx="473.98" cy="902.50" r="6.0" fill="#000"/>
<rect x="501.55" y="896.90" width="11.4" height="11.4" fill="none" stroke="#000" stroke-width="2.0"/>
<circle cx="507.25" cy="902.60" r="5.25" fill="none" stroke="#777" stroke-width="1.0"/>
<circle cx="507.25" cy="902.50" r="6.0" fill="#000"/>
<rect x="534.82" y="896.90" width="11.4" height="11.4" fill="none" stroke="#000" stroke-width="2.0"/>
<circle cx="540.52" cy="902.60" r="5.25" fill="none" stroke="#777" stroke-width="1.0"/>
<circle cx="540.52" cy="902.50" r="6.0" fill="#000"/>
<rect x="568.09" y="896.90" width="11.4" height="11.4" fill="none" stroke="#000" stroke-width="2.0"/>
<circle cx="573.79" cy="902.60" r="5.25" fill="none" stroke="#777" stroke-width="1.0"/>
<circle cx="573.79" cy="902.50" r="6.0" fill="#000"/>
<rect x="601.35" y="896.90" width="11.4" height="11.4" fill="none" stroke="#000" stroke-width="2.0"/>
<circle cx="607.05" cy="902.60" r="5.25" fill="none" stroke="#777" stroke-width="1.0"/>
<circle cx="607.05" cy="902.50" r="6.0" fill="#000"/>
<rect x="634.62" y="896.90" width="11.4" height="11.4" fill="none" stroke="#000" stroke-width="2.0"/>
<circle cx="640.32" cy="902.60" r="5.25" fill="none" stroke="#777" stroke-width="1.0"/>
<circle cx="640.32" cy="902.50" r="6.0" fill="#000"/>
<rect x="667.89" y="896.90" width="11.4" height="11.4" fill="none" stroke="#000" stroke-width="2.0"/>
<circle cx="673.59" cy="902.60" r="5.25" fill="none" stroke="#777" stroke-width="1.0"/>
<circle cx="673.59" cy="902.50" r="6.0" fill="#000"/>
<rect x="701.16" y="896.90" width="11.4" height="11.4" fill="none" stroke="#000" stroke-width="2.0"/>
<circle cx="706.86" cy="902.60" r="5.25" fill="none" stroke="#777" stroke-width="1.0"/>
<circle cx="706.86" cy="902.50" r="6.0" fill="#000"/>
<rect x="734.43" y="896.90" width="11.4" height="11.4" fill="none" stroke="#000" stroke-width="2.0"/>
<circle cx="740.13" cy="902.60" r="5.25" fill="none" stroke="#777" stroke-width="1.0"/>
<circle cx="740.13" cy="902.50" r="6.0" fill="#000"/>
<circle cx="175.00" cy="788.30" r="6.0" fill="#000"/>
<circle cx="208.40" cy="736.90" r="6.0" fill="#000"/>
<circle cx="241.80" cy="717.90" r="6.0" fill="#000"/>
<circle cx="274.60" cy="721.80" r="6.0" fill="#000"/>
<circle cx="307.80" cy="766.60" r="6.0" fill="#000"/>
<circle cx="341.00" cy="788.00" r="6.0" fill="#000"/>
<circle cx="374.30" cy="865.50" r="6.0" fill="#000"/>
<rect x="85.10" y="896.00" width="12.8" height="12.8" fill="#000"/>
<rect x="135.10" y="896.00" width="12.8" height="12.8" fill="#000"/>
<rect x="168.30" y="698.30" width="12.8" height="12.8" fill="#000"/>
<rect x="201.20" y="625.00" width="12.8" height="12.8" fill="#000"/>
<rect x="235.00" y="602.30" width="12.8" height="12.8" fill="#000"/>
<rect x="267.90" y="600.60" width="12.8" height="12.8" fill="#000"/>
<rect x="301.20" y="615.20" width="12.8" height="12.8" fill="#000"/>
<rect x="334.50" y="615.20" width="12.8" height="12.8" fill="#000"/>
<rect x="367.70" y="645.20" width="12.8" height="12.8" fill="#000"/>
<rect x="400.80" y="656.10" width="12.8" height="12.8" fill="#000"/>
<rect x="433.90" y="680.90" width="12.8" height="12.8" fill="#000"/>
<rect x="467.30" y="680.90" width="12.8" height="12.8" fill="#000"/>
<rect x="501.00" y="745.30" width="12.8" height="12.8" fill="#000"/>
<rect x="534.10" y="775.80" width="12.8" height="12.8" fill="#000"/>
<rect x="567.10" y="775.80" width="12.8" height="12.8" fill="#000"/>
<rect x="600.30" y="799.10" width="12.8" height="12.8" fill="#000"/>
<rect x="634.10" y="830.30" width="12.8" height="12.8" fill="#000"/>
<rect x="667.10" y="873.10" width="12.8" height="12.8" fill="#000"/>
<rect x="700.20" y="873.10" width="12.8" height="12.8" fill="#000"/>
<rect x="733.60" y="895.90" width="12.8" height="12.8" fill="#000"/>
<text x="205.10" y="582.70" font-size="29.5" text-anchor="middle" fill="#151515" transform="translate(0 562.40) scale(1 1.08) translate(0 -562.40)">*</text>
<text x="238.75" y="575.20" font-size="29.5" text-anchor="middle" fill="#151515" transform="translate(0 554.90) scale(1 1.08) translate(0 -554.90)">*</text>
<text x="271.90" y="572.05" font-size="29.5" text-anchor="middle" fill="#151515" transform="translate(0 551.75) scale(1 1.08) translate(0 -551.75)">*</text>
<text x="304.20" y="575.20" font-size="29.5" text-anchor="middle" fill="#151515" transform="translate(0 554.90) scale(1 1.08) translate(0 -554.90)">*</text>
<text x="341.40" y="575.20" font-size="29.5" text-anchor="middle" fill="#151515" transform="translate(0 554.90) scale(1 1.08) translate(0 -554.90)">*</text>
<text x="374.00" y="607.05" font-size="29.5" text-anchor="middle" fill="#151515" transform="translate(0 586.75) scale(1 1.08) translate(0 -586.75)">*</text>
<text x="238.90" y="781.10" font-size="29.5" text-anchor="middle" fill="#151515" transform="translate(0 760.80) scale(1 1.08) translate(0 -760.80)">*</text>
<text x="272.50" y="786.10" font-size="29.5" text-anchor="middle" fill="#151515" transform="translate(0 765.80) scale(1 1.08) translate(0 -765.80)">*</text>
<text x="307.30" y="812.90" font-size="29.5" text-anchor="middle" fill="#151515" transform="translate(0 792.60) scale(1 1.08) translate(0 -792.60)">*</text>
<line x1="172.85" y1="638.50" x2="170.10" y2="652.80" stroke="#151515" stroke-width="2.4" stroke-linecap="butt"/>
<line x1="178.55" y1="638.50" x2="175.60" y2="652.80" stroke="#151515" stroke-width="2.4" stroke-linecap="butt"/>
<line x1="168.80" y1="642.90" x2="179.80" y2="642.90" stroke="#151515" stroke-width="2.4" stroke-linecap="butt"/>
<line x1="168.70" y1="648.50" x2="179.70" y2="648.50" stroke="#151515" stroke-width="2.4" stroke-linecap="butt"/>
<line x1="405.45" y1="591.00" x2="402.70" y2="605.30" stroke="#151515" stroke-width="2.4" stroke-linecap="butt"/>
<line x1="411.15" y1="591.00" x2="408.20" y2="605.30" stroke="#151515" stroke-width="2.4" stroke-linecap="butt"/>
<line x1="401.40" y1="595.40" x2="412.40" y2="595.40" stroke="#151515" stroke-width="2.4" stroke-linecap="butt"/>
<line x1="401.30" y1="601.00" x2="412.30" y2="601.00" stroke="#151515" stroke-width="2.4" stroke-linecap="butt"/>
<line x1="439.15" y1="606.00" x2="436.40" y2="620.30" stroke="#151515" stroke-width="2.4" stroke-linecap="butt"/>
<line x1="444.85" y1="606.00" x2="441.90" y2="620.30" stroke="#151515" stroke-width="2.4" stroke-linecap="butt"/>
<line x1="435.10" y1="610.40" x2="446.10" y2="610.40" stroke="#151515" stroke-width="2.4" stroke-linecap="butt"/>
<line x1="435.00" y1="616.00" x2="446.00" y2="616.00" stroke="#151515" stroke-width="2.4" stroke-linecap="butt"/>
<line x1="472.55" y1="606.00" x2="469.80" y2="620.30" stroke="#151515" stroke-width="2.4" stroke-linecap="butt"/>
<line x1="478.25" y1="606.00" x2="475.30" y2="620.30" stroke="#151515" stroke-width="2.4" stroke-linecap="butt"/>
<line x1="468.50" y1="610.40" x2="479.50" y2="610.40" stroke="#151515" stroke-width="2.4" stroke-linecap="butt"/>
<line x1="468.40" y1="616.00" x2="479.40" y2="616.00" stroke="#151515" stroke-width="2.4" stroke-linecap="butt"/>
<line x1="205.45" y1="786.70" x2="202.70" y2="801.00" stroke="#151515" stroke-width="2.4" stroke-linecap="butt"/>
<line x1="211.15" y1="786.70" x2="208.20" y2="801.00" stroke="#151515" stroke-width="2.4" stroke-linecap="butt"/>
<line x1="201.40" y1="791.10" x2="212.40" y2="791.10" stroke="#151515" stroke-width="2.4" stroke-linecap="butt"/>
<line x1="201.30" y1="796.70" x2="212.30" y2="796.70" stroke="#151515" stroke-width="2.4" stroke-linecap="butt"/>
<line x1="334.95" y1="814.00" x2="332.20" y2="828.30" stroke="#151515" stroke-width="2.4" stroke-linecap="butt"/>
<line x1="340.65" y1="814.00" x2="337.70" y2="828.30" stroke="#151515" stroke-width="2.4" stroke-linecap="butt"/>
<line x1="330.90" y1="818.40" x2="341.90" y2="818.40" stroke="#151515" stroke-width="2.4" stroke-linecap="butt"/>
<line x1="330.80" y1="824.00" x2="341.80" y2="824.00" stroke="#151515" stroke-width="2.4" stroke-linecap="butt"/>
<line x1="510.85" y1="38.70" x2="528.90" y2="38.70" stroke="#000" stroke-width="3.0" stroke-linecap="butt"/>
<line x1="540.60" y1="38.70" x2="546.90" y2="38.70" stroke="#000" stroke-width="3.0" stroke-linecap="butt"/>
<line x1="558.60" y1="38.70" x2="577.00" y2="38.70" stroke="#000" stroke-width="3.0" stroke-linecap="butt"/>
<line x1="588.40" y1="38.70" x2="595.40" y2="38.70" stroke="#000" stroke-width="3.0" stroke-linecap="butt"/>
<line x1="606.75" y1="38.70" x2="615.85" y2="38.70" stroke="#000" stroke-width="3.0" stroke-linecap="butt"/>
<circle cx="565.10" cy="40.65" r="5.75" fill="none" stroke="#000" stroke-width="2.0"/>
<line x1="510.85" y1="76.35" x2="517.00" y2="76.35" stroke="#000" stroke-width="3.0" stroke-linecap="butt"/>
<line x1="534.65" y1="76.35" x2="541.10" y2="76.35" stroke="#000" stroke-width="3.0" stroke-linecap="butt"/>
<line x1="583.10" y1="76.35" x2="588.90" y2="76.35" stroke="#000" stroke-width="3.0" stroke-linecap="butt"/>
<line x1="606.75" y1="76.35" x2="612.90" y2="76.35" stroke="#000" stroke-width="3.0" stroke-linecap="butt"/>
<rect x="559.30" y="71.70" width="10.6" height="10.6" fill="none" stroke="#000" stroke-width="2.0"/>
<line x1="559.50" y1="76.35" x2="564.40" y2="76.35" stroke="#000" stroke-width="3.0" stroke-linecap="butt"/>
<line x1="510.85" y1="113.40" x2="573.50" y2="113.40" stroke="#000" stroke-width="3.0" stroke-linecap="butt"/>
<line x1="607.10" y1="113.40" x2="615.85" y2="113.40" stroke="#000" stroke-width="3.0" stroke-linecap="butt"/>
<circle cx="564.75" cy="114.80" r="5.85" fill="#000"/>
<line x1="510.85" y1="150.65" x2="615.85" y2="150.65" stroke="#000" stroke-width="3.0" stroke-linecap="butt"/>
<rect x="558.30" y="145.70" width="12.6" height="12.6" fill="#000"/>
<text x="640.00" y="47.60" font-size="27" text-anchor="start" fill="#151515">Vehicle</text>
<text x="639.90" y="84.80" font-size="27" text-anchor="start" fill="#151515">0.01 mg/kg</text>
<text x="639.90" y="122.20" font-size="27" text-anchor="start" fill="#151515">0.032 mg/kg</text>
<text x="639.90" y="159.80" font-size="27" text-anchor="start" fill="#151515">0.1 mg/kg</text>
</svg>
</body></html>
